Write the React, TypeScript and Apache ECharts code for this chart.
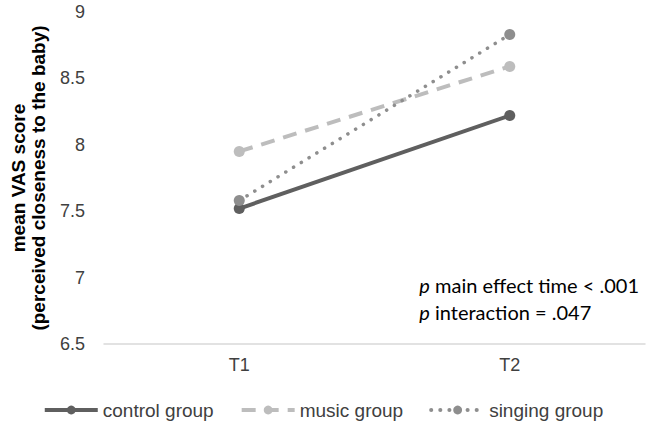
import React, { useEffect, useRef } from "react";
import * as echarts from "echarts";

const categories = ["T1", "T2"];
const controlGroup = [7.52, 8.22];
const musicGroup = [7.95, 8.59];
const singingGroup = [7.58, 8.83];
const yTicks = { min: 6.5, max: 9, interval: 0.5 };
const yName = "mean VAS score\n(perceived closeness to the baby)";
const seriesNames = ["control group", "music group", "singing group"];
const annotation = "{i|p} main effect time < .001\n{i|p} interaction = .047";

export default function App() {
  const ref = useRef<HTMLDivElement>(null);
  useEffect(() => {
    const chart = echarts.init(ref.current!, null, { renderer: "svg" });
    const font = "Liberation Sans, Arial, sans-serif";
    const noteFont = "Lato, Open Sans, sans-serif";
    chart.setOption({
      animation: false,
      backgroundColor: "#ffffff",
      grid: { left: 103, right: 1, top: 12, bottom: 77, containLabel: false },
      xAxis: {
        type: "category",
        data: categories,
        boundaryGap: true,
        axisLine: { show: true, lineStyle: { color: "#d9d9d9", width: 1.5 } },
        axisTick: { show: false },
        axisLabel: { color: "#404040", fontSize: 18, fontFamily: font, margin: 12 },
      },
      yAxis: {
        type: "value",
        min: yTicks.min,
        max: yTicks.max,
        interval: yTicks.interval,
        name: yName,
        nameLocation: "middle",
        nameGap: 56,
        nameTextStyle: {
          color: "#000000",
          fontSize: 19,
          fontWeight: "bold",
          fontFamily: font,
          lineHeight: 20,
        },
        axisLine: { show: false },
        axisTick: { show: false },
        splitLine: { show: false },
        axisLabel: { color: "#404040", fontSize: 18, fontFamily: font, margin: 19 },
      },
      legend: {
        top: 394,
        left: "center",
        itemWidth: 53,
        itemHeight: 11,
        itemGap: 26,
        lineStyle: { width: 4 },
        textStyle: { color: "#404040", fontSize: 19, fontFamily: font, lineHeight: 22 },
        data: seriesNames,
      },
      series: [
        {
          name: seriesNames[0],
          type: "line",
          data: controlGroup,
          symbol: "circle",
          symbolSize: 11,
          itemStyle: { color: "#5f5f5f" },
          lineStyle: { color: "#5f5f5f", width: 4 },
        },
        {
          name: seriesNames[1],
          type: "line",
          data: musicGroup,
          symbol: "circle",
          symbolSize: 11,
          itemStyle: { color: "#bdbdbd" },
          lineStyle: { color: "#bdbdbd", width: 4, type: [14, 9] },
        },
        {
          name: seriesNames[2],
          type: "line",
          data: singingGroup,
          symbol: "circle",
          symbolSize: 11,
          itemStyle: { color: "#8e8e8e" },
          lineStyle: { color: "#8e8e8e", width: 3.5, type: [0.1, 9], cap: "round" },
        },
      ],
      graphic: [
        {
          type: "text",
          right: 7,
          top: 271,
          style: {
            text: annotation,
            align: "right",
            fill: "#000000",
            fontSize: 20,
            fontFamily: noteFont,
            lineHeight: 27,
            rich: {
              i: { fontStyle: "italic", fontSize: 20, fontFamily: noteFont, lineHeight: 27 },
            },
          },
        },
      ],
    });
    return () => chart.dispose();
  }, []);
  return (
    <div
      ref={ref}
      style={{ position: "fixed", left: 0, top: 0, width: 646, height: 421 }}
    />
  );
}
